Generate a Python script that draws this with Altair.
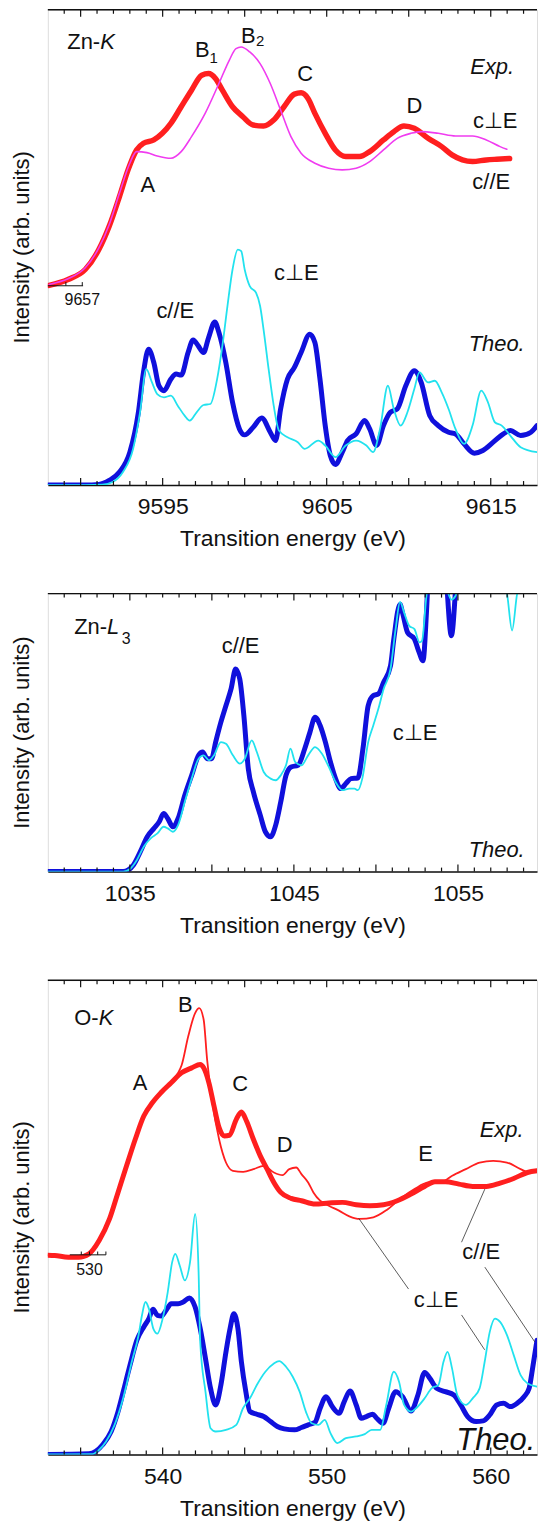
import altair as alt
import pandas as pd

FONT = "Liberation Sans"
INK = "#111111"
RED = "#ff1f1f"
MAGENTA = "#f03cf0"
BLUE = "#1010dc"
CYAN = "#22e2ee"

W = 491
H1, H2, H3 = 477, 279, 476

# Axis ranges (eV for energies, arbitrary units for intensities)
ZNK_THEO_RANGE = [9588.0, 9617.82]
ZNK_EXP_RANGE = [9654.9, 9684.72]
ZNL_THEO_RANGE = [1030.0, 1059.82]
OK_THEO_RANGE = [533.0, 562.82]
OK_EXP_RANGE = [527.46, 557.28]
ZNK_I_RANGE = [0, 143.1]
ZNL_I_RANGE = [0, 83.7]
OK_I_RANGE = [0, 142.8]

# ---------------- Zn-K edge ----------------
znk_exp_par = [
    (9654.98, 60.1), (9656.13, 61.9), (9657.18, 64.9), (9658.01, 70.9), (9658.64, 77.9),
    (9659.27, 86.9), (9659.79, 94.9), (9660.31, 100.9), (9660.73, 102.9), (9661.36, 103.9),
    (9661.88, 105.9), (9662.40, 108.9), (9663.03, 113.9), (9663.66, 118.9), (9664.28, 123.4),
    (9664.70, 123.9), (9665.12, 122.4), (9665.54, 118.9), (9666.16, 113.9), (9666.79, 110.9),
    (9667.42, 108.4), (9668.05, 108.1), (9668.67, 109.9), (9669.30, 113.9), (9669.93, 117.7),
    (9670.34, 118.1), (9670.76, 116.4), (9671.18, 111.9), (9671.81, 105.9), (9672.43, 100.9),
    (9673.06, 98.9), (9673.90, 98.9), (9674.52, 100.4), (9675.36, 103.9), (9675.99, 106.4),
    (9676.61, 108.1), (9677.24, 107.4), (9678.08, 104.4), (9678.91, 101.9), (9679.54, 99.4),
    (9680.17, 97.9), (9680.79, 97.4), (9681.63, 97.9), (9682.26, 98.1), (9683.05, 98.3),
]
znk_exp_perp = [
    (9654.98, 60.4), (9656.13, 62.1), (9657.18, 65.4), (9658.01, 71.4), (9658.64, 78.4),
    (9659.27, 87.9), (9659.90, 96.9), (9660.31, 100.4), (9660.94, 100.1), (9661.57, 99.1),
    (9662.40, 98.4), (9663.03, 100.4), (9663.66, 104.9), (9664.49, 111.9), (9665.33, 120.9),
    (9665.96, 127.9), (9666.37, 131.4), (9666.69, 131.9), (9667.21, 130.4), (9667.84, 126.9),
    (9668.46, 120.9), (9669.09, 112.9), (9669.72, 104.9), (9670.34, 99.9), (9671.18, 96.9),
    (9672.02, 95.4), (9672.85, 94.9), (9673.69, 95.4), (9674.52, 97.4), (9675.36, 100.9),
    (9676.20, 104.4), (9677.03, 105.9), (9677.66, 106.4), (9678.70, 105.9), (9679.75, 105.1),
    (9680.79, 105.1), (9681.63, 103.9), (9682.47, 101.9), (9682.88, 101.1),
]
znk_theo_par = [
    (9588.00, 0.0), (9590.28, 0.0), (9591.11, 0.2), (9591.74, 1.4), (9592.37, 3.9),
    (9593.00, 9.9), (9593.52, 21.9), (9593.83, 33.9), (9594.14, 40.9), (9594.46, 36.9),
    (9594.77, 29.9), (9595.08, 28.4), (9595.50, 31.9), (9595.82, 33.4), (9596.13, 33.1),
    (9596.55, 39.9), (9596.86, 43.7), (9597.17, 41.9), (9597.49, 39.9), (9597.80, 44.4),
    (9598.18, 49.1), (9598.43, 45.9), (9598.85, 36.9), (9599.26, 24.9), (9599.68, 16.9),
    (9600.00, 15.1), (9600.52, 17.4), (9601.04, 20.2), (9601.56, 15.9), (9601.88, 13.4),
    (9602.19, 22.9), (9602.61, 31.9), (9603.03, 35.4), (9603.44, 39.9), (9603.97, 45.4),
    (9604.28, 42.9), (9604.59, 31.9), (9604.91, 17.9), (9605.22, 8.9), (9605.53, 6.2),
    (9605.95, 9.9), (9606.27, 13.4), (9606.79, 15.4), (9607.31, 19.4), (9607.62, 16.9),
    (9608.04, 11.9), (9608.46, 17.9), (9608.88, 21.9), (9609.30, 22.9), (9609.82, 29.9),
    (9610.34, 34.4), (9610.76, 30.9), (9611.28, 20.9), (9611.80, 17.9), (9612.43, 15.9),
    (9612.85, 15.4), (9613.37, 12.4), (9614.00, 9.6), (9614.52, 10.4), (9615.15, 12.9),
    (9615.77, 15.4), (9616.19, 16.4), (9616.82, 14.9), (9617.45, 15.9), (9617.82, 17.9),
]
znk_theo_perp = [
    (9588.00, 0.0), (9590.28, 0.0), (9591.32, 0.1), (9591.95, 0.9), (9592.58, 3.9),
    (9593.20, 10.9), (9593.62, 21.9), (9594.00, 34.9), (9594.35, 30.9), (9594.67, 27.4),
    (9595.08, 26.4), (9595.50, 26.9), (9595.92, 23.9), (9596.34, 20.9), (9596.65, 19.4),
    (9597.07, 21.9), (9597.49, 24.1), (9597.91, 24.4), (9598.32, 31.9), (9598.64, 41.9),
    (9598.95, 53.9), (9599.26, 64.9), (9599.58, 70.9), (9599.79, 70.4), (9600.00, 64.9),
    (9600.31, 59.9), (9600.69, 57.9), (9600.94, 53.9), (9601.15, 46.9), (9601.46, 34.9),
    (9601.77, 23.9), (9602.09, 16.4), (9602.61, 14.4), (9603.24, 12.9), (9603.66, 10.9),
    (9604.49, 13.4), (9604.91, 11.9), (9605.53, 8.4), (9606.16, 11.9), (9606.79, 13.4),
    (9607.42, 11.9), (9607.83, 9.9), (9608.25, 16.9), (9608.73, 29.9), (9609.09, 22.9),
    (9609.51, 17.9), (9609.92, 21.9), (9610.34, 28.9), (9610.65, 33.9), (9611.18, 30.9),
    (9611.59, 31.4), (9612.01, 27.9), (9612.43, 22.9), (9612.85, 16.9), (9613.37, 12.4),
    (9613.89, 17.9), (9614.42, 28.4), (9614.83, 24.9), (9615.25, 18.9), (9615.67, 17.9),
    (9616.19, 14.9), (9616.82, 11.4), (9617.82, 9.9),
]

# ---------------- Zn-L3 edge ----------------
znl_theo_par = [
    (1030.00, 0.0), (1034.59, 0.0), (1034.91, 0.5), (1035.22, 2.0), (1035.64, 6.0),
    (1036.06, 10.5), (1036.47, 13.0), (1036.79, 15.0), (1037.06, 17.5), (1037.31, 16.0),
    (1037.62, 13.5), (1037.94, 16.0), (1038.35, 23.0), (1038.77, 29.0), (1039.19, 35.0),
    (1039.44, 36.0), (1039.71, 34.0), (1039.98, 34.0), (1040.23, 39.0), (1040.55, 45.0),
    (1040.86, 50.0), (1041.17, 55.0), (1041.45, 61.0), (1041.70, 58.0), (1041.95, 47.0),
    (1042.22, 31.0), (1042.53, 24.0), (1042.95, 17.0), (1043.26, 12.0), (1043.58, 10.5),
    (1043.89, 14.0), (1044.20, 21.0), (1044.52, 29.0), (1044.83, 31.5), (1045.25, 32.0),
    (1045.66, 37.0), (1045.98, 42.0), (1046.29, 46.5), (1046.60, 44.0), (1046.92, 39.0),
    (1047.23, 33.0), (1047.54, 28.0), (1047.86, 25.0), (1048.17, 26.5), (1048.48, 28.0),
    (1048.90, 28.2), (1049.21, 37.0), (1049.53, 50.0), (1049.84, 53.0), (1050.15, 53.5),
    (1050.47, 57.0), (1050.89, 62.0), (1051.09, 70.0), (1051.47, 80.5), (1051.62, 78.0),
    (1051.93, 72.0), (1052.35, 70.0), (1052.60, 66.5), (1052.87, 63.5), (1053.08, 78.0),
    (1053.18, 88.0), (1053.43, 100.0), (1053.80, 104.0), (1054.23, 92.0), (1054.60, 71.0),
    (1054.96, 92.0), (1055.27, 104.0), (1056.50, 112.0), (1058.00, 116.0), (1059.82, 120.0),
]
znl_theo_perp = [
    (1030.00, 0.0), (1034.59, 0.0), (1035.01, 0.8), (1035.43, 3.5), (1035.85, 7.5),
    (1036.27, 10.0), (1036.68, 11.5), (1037.06, 13.5), (1037.31, 13.0), (1037.62, 12.0),
    (1037.94, 14.0), (1038.35, 21.0), (1038.77, 28.0), (1039.19, 34.0), (1039.50, 35.0),
    (1039.82, 33.5), (1040.13, 35.0), (1040.55, 39.0), (1040.86, 38.5), (1041.28, 35.0),
    (1041.70, 32.5), (1042.01, 34.0), (1042.43, 39.5), (1042.74, 36.0), (1043.16, 30.0),
    (1043.58, 28.0), (1043.89, 27.5), (1044.20, 29.0), (1044.52, 32.0), (1044.79, 37.0),
    (1045.08, 33.0), (1045.46, 32.0), (1045.87, 35.0), (1046.29, 37.5), (1046.71, 35.5),
    (1047.13, 31.5), (1047.54, 27.0), (1047.96, 24.5), (1048.38, 25.0), (1048.69, 25.0),
    (1048.90, 24.5), (1049.17, 28.0), (1049.53, 39.0), (1049.84, 44.0), (1050.15, 49.0),
    (1050.47, 55.0), (1050.89, 61.0), (1051.20, 73.0), (1051.47, 81.2), (1051.72, 78.0),
    (1052.03, 74.0), (1052.35, 73.0), (1052.66, 69.0), (1052.81, 69.5), (1053.08, 83.0),
    (1053.43, 92.0), (1054.02, 90.0), (1054.33, 85.0), (1054.60, 81.9), (1054.85, 83.0),
    (1055.17, 90.0), (1056.50, 100.0), (1057.78, 87.0), (1057.99, 83.7), (1058.30, 72.6),
    (1058.61, 83.7), (1058.82, 87.0), (1059.82, 100.0),
]

# ---------------- O-K edge ----------------
ok_exp_par = [
    (527.46, 60.0), (527.88, 59.9), (528.71, 59.4), (529.34, 59.4), (529.97, 60.4),
    (530.59, 64.4), (531.22, 70.9), (531.74, 78.9), (532.26, 86.9), (532.79, 94.9),
    (533.31, 101.9), (533.83, 105.9), (534.35, 108.9), (534.98, 111.9), (535.61, 114.9),
    (536.23, 116.4), (536.75, 117.4), (536.96, 116.4), (537.28, 111.9), (537.59, 104.9),
    (537.90, 98.4), (538.22, 95.9), (538.53, 96.1), (538.95, 100.9), (539.26, 103.1),
    (539.57, 100.4), (539.99, 94.9), (540.41, 89.9), (540.83, 85.9), (541.24, 81.9),
    (541.66, 78.9), (542.29, 77.1), (542.92, 76.4), (543.75, 75.4), (544.59, 75.7),
    (545.42, 75.9), (546.26, 75.2), (547.09, 74.9), (547.93, 75.2), (548.76, 76.4),
    (549.60, 78.4), (550.43, 80.7), (551.06, 82.1), (551.69, 82.1), (552.52, 81.4),
    (553.36, 80.7), (554.19, 80.7), (555.03, 81.7), (555.86, 83.1), (556.70, 84.9),
    (557.28, 85.4),
]
ok_exp_perp = [
    (527.46, 60.0), (527.88, 59.9), (528.71, 59.4), (529.34, 59.4), (529.97, 60.4),
    (530.59, 64.4), (531.22, 70.9), (531.74, 78.9), (532.26, 86.9), (532.79, 94.9),
    (533.31, 101.9), (533.83, 105.9), (534.35, 108.9), (534.98, 111.9), (535.40, 114.9),
    (535.61, 117.1), (536.02, 125.9), (536.44, 132.9), (536.69, 134.4), (536.96, 130.9),
    (537.17, 118.9), (537.49, 105.9), (537.90, 94.9), (538.32, 87.9), (538.74, 85.4),
    (539.37, 85.1), (539.99, 85.9), (540.62, 86.9), (541.24, 84.9), (541.77, 84.1),
    (542.18, 85.9), (542.60, 86.4), (542.92, 84.4), (543.33, 81.9), (543.65, 78.9),
    (544.06, 76.4), (544.59, 74.9), (545.21, 73.4), (545.84, 71.7), (546.47, 70.9),
    (547.30, 71.4), (548.14, 73.7), (548.97, 77.1), (549.81, 79.9), (550.64, 81.9),
    (551.48, 82.1), (552.11, 83.9), (552.94, 85.9), (553.78, 87.9), (554.61, 88.4),
    (555.45, 87.9), (556.28, 85.9), (556.80, 84.9), (557.28, 85.4),
]
ok_theo_par = [
    (533.00, 0.0), (535.51, 0.2), (535.92, 0.9), (536.34, 2.9), (536.86, 6.9),
    (537.28, 12.9), (537.70, 20.9), (538.01, 26.9), (538.43, 34.4), (538.85, 38.4),
    (539.16, 40.9), (539.41, 43.7), (539.68, 41.9), (539.93, 41.7), (540.21, 43.4),
    (540.52, 45.4), (540.94, 45.4), (541.25, 45.9), (541.63, 47.1), (541.98, 44.4),
    (542.29, 37.9), (542.61, 28.9), (542.92, 19.9), (543.23, 14.9), (543.55, 20.9),
    (543.86, 30.9), (544.11, 37.9), (544.34, 42.4), (544.59, 37.9), (544.80, 27.9),
    (545.07, 18.9), (545.32, 12.9), (545.74, 12.1), (546.16, 11.4), (546.58, 9.9),
    (546.99, 8.4), (547.41, 7.7), (548.04, 7.4), (548.46, 8.1), (548.87, 8.9),
    (549.29, 9.7), (549.60, 13.9), (549.96, 17.4), (550.34, 14.4), (550.75, 12.4),
    (551.07, 15.9), (551.42, 19.1), (551.80, 14.9), (552.11, 10.9), (552.42, 11.4),
    (552.80, 12.1), (553.05, 10.9), (553.43, 9.4), (553.78, 13.9), (554.20, 18.9),
    (554.62, 17.4), (555.14, 13.1), (555.56, 17.9), (555.97, 24.7), (556.29, 22.9),
    (556.71, 19.9), (557.23, 18.9), (557.75, 17.9), (558.17, 14.9), (558.59, 11.4),
    (559.11, 9.9), (559.53, 10.1), (559.94, 11.9), (560.36, 14.9), (560.78, 15.4),
    (561.20, 14.4), (561.61, 15.4), (562.03, 17.4), (562.34, 19.9), (562.55, 25.9),
    (562.82, 34.4),
]
ok_theo_perp = [
    (533.00, 0.0), (535.72, 0.1), (536.13, 1.4), (536.55, 3.9), (537.07, 8.9),
    (537.59, 16.9), (538.12, 27.9), (538.53, 35.9), (538.74, 41.9), (538.95, 45.9),
    (539.16, 43.9), (539.43, 37.9), (539.68, 36.4), (540.00, 40.9), (540.31, 48.9),
    (540.58, 57.9), (540.77, 60.4), (541.04, 56.9), (541.35, 52.4), (541.67, 57.9),
    (541.98, 72.4), (542.19, 55.0), (542.29, 33.9), (542.61, 18.9), (542.92, 7.9),
    (543.23, 6.9), (543.86, 7.4), (544.49, 8.9), (544.90, 13.9), (545.32, 16.9),
    (545.74, 20.9), (546.26, 24.9), (546.78, 27.4), (547.10, 28.1), (547.52, 26.4),
    (547.93, 23.4), (548.35, 18.9), (548.73, 12.9), (549.08, 9.4), (549.50, 8.9),
    (549.88, 10.4), (550.23, 6.4), (550.65, 3.4), (551.17, 4.9), (551.80, 5.4),
    (552.32, 6.1), (552.74, 7.4), (553.26, 7.4), (553.63, 14.9), (554.09, 24.9),
    (554.41, 21.9), (554.72, 14.9), (555.14, 12.9), (555.45, 13.9), (555.97, 16.9),
    (556.39, 19.9), (556.81, 20.9), (557.12, 27.9), (557.37, 30.9), (557.64, 25.9),
    (557.96, 17.9), (558.48, 14.9), (558.90, 16.9), (559.32, 19.9), (559.63, 27.9),
    (559.94, 36.9), (560.26, 40.9), (560.57, 39.9), (560.99, 35.9), (561.40, 29.9),
    (561.82, 23.9), (562.24, 21.4), (562.82, 20.4),
]

# Labelled tick values on the energy axes
znk_tick_labels = [9595, 9605, 9615]
znl_tick_labels = [1035, 1045, 1055]
ok_tick_labels = [540, 550, 560]

PERP = "c\u22a5E"
PAR = "c//E"
Y_TITLE = "Intensity (arb. units)"


def xenc(rng, field="energy"):
    return alt.X(f"{field}:Q", scale=alt.Scale(domain=rng, nice=False, zero=False), axis=None)


def yenc(rng, field="intensity"):
    return alt.Y(f"{field}:Q", scale=alt.Scale(domain=rng, nice=False, zero=False), axis=None)


def curve(points, xr, yr, color, width, axes=None):
    df = pd.DataFrame(points, columns=["energy", "intensity"])
    x = xenc(xr)
    y = yenc(yr)
    if axes is not None:
        x = alt.X("energy:Q", scale=alt.Scale(domain=xr, nice=False, zero=False),
                  axis=alt.Axis(values=axes, format="d", ticks=False, grid=False,
                                domainColor=INK, domainWidth=1.5, labelFont=FONT,
                                labelFontSize=23, labelColor=INK, labelPadding=11,
                                labelFlush=False, labelAngle=0,
                                title="Transition energy (eV)", titleFont=FONT,
                                titleFontSize=23, titleFontWeight="normal",
                                titleColor=INK, titlePadding=9))
        y = alt.Y("intensity:Q", scale=alt.Scale(domain=yr, nice=False, zero=False),
                  axis=alt.Axis(ticks=False, labels=False, grid=False, domainColor=INK,
                                domainWidth=1.5, title=None))
    return alt.Chart(df).mark_line(
        color=color, strokeWidth=width, interpolate="monotone", clip=True,
        strokeJoin="round", strokeCap="round",
    ).encode(x=x, y=y)


def y_title(height):
    return alt.Chart(pd.DataFrame({"t": [Y_TITLE]})).mark_text(
        font=FONT, fontSize=22, angle=270, align="center", baseline="middle", color=INK,
    ).encode(x=alt.value(-25.5), y=alt.value(height / 2), text="t:N")


def ticks(values, xr, y0, y1):
    df = pd.DataFrame({"energy": values})
    return alt.Chart(df).mark_rule(color=INK, strokeWidth=1.2).encode(
        x=xenc(xr), y=alt.value(y0), y2=alt.value(y1))


def frame_ticks(xr, height):
    lo = int(xr[0]) + 1
    hi = int(xr[1])
    minor = [v for v in range(lo, hi + 1) if v % 5 != 0]
    major = [v for v in range(lo, hi + 1) if v % 5 == 0]
    top_line = alt.Chart(pd.DataFrame({"e0": [xr[0]], "e1": [xr[1]]})).mark_rule(
        color=INK, strokeWidth=1.5).encode(
        x=alt.X("e0:Q", scale=alt.Scale(domain=xr, nice=False, zero=False), axis=None),
        x2="e1:Q", y=alt.value(0))
    return [
        top_line,
        ticks(minor, xr, 0, 4),
        ticks(major, xr, 0, 7),
        ticks(minor, xr, height, height - 4),
        ticks(major, xr, height, height - 7),
    ]


def labels(rows, xr, yr, size=22, style="normal", align="center", baseline="middle"):
    df = pd.DataFrame(rows, columns=["energy", "intensity", "text"])
    return alt.Chart(df).mark_text(
        font=FONT, fontSize=size, fontStyle=style, align=align, baseline=baseline,
        color=INK, clip=True,
    ).encode(x=xenc(xr), y=yenc(yr), text="text:N")


def leaders(rows, xr, yr):
    df = pd.DataFrame(rows, columns=["e0", "i0", "e1", "i1"])
    return alt.Chart(df).mark_rule(color="#333333", strokeWidth=0.8).encode(
        x=alt.X("e0:Q", scale=alt.Scale(domain=xr, nice=False, zero=False), axis=None),
        x2="e1:Q",
        y=alt.Y("i0:Q", scale=alt.Scale(domain=yr, nice=False, zero=False), axis=None),
        y2="i1:Q")


def mini_axis(xr, yr, start, end, level, tick_at, tick_top, label, label_level):
    base = alt.Chart(pd.DataFrame({"e0": [start], "e1": [end], "lv": [level]})).mark_rule(
        color=INK, strokeWidth=1.0).encode(
        x=alt.X("e0:Q", scale=alt.Scale(domain=xr, nice=False, zero=False), axis=None),
        x2="e1:Q",
        y=alt.Y("lv:Q", scale=alt.Scale(domain=yr, nice=False, zero=False), axis=None))
    tk = alt.Chart(pd.DataFrame({"energy": tick_at, "i0": level, "i1": tick_top})).mark_rule(
        color=INK, strokeWidth=1.0).encode(
        x=xenc(xr),
        y=alt.Y("i0:Q", scale=alt.Scale(domain=yr, nice=False, zero=False), axis=None),
        y2="i1:Q")
    txt = labels([(label, label_level, str(label))], xr, yr, size=16)
    return [base, tk, txt]


# ---------------- panel 1: Zn-K ----------------
xr, xe, yr = ZNK_THEO_RANGE, ZNK_EXP_RANGE, ZNK_I_RANGE
p1_layers = [
    curve(znk_theo_par, xr, yr, BLUE, 5, axes=znk_tick_labels),
    curve(znk_theo_perp, xr, yr, CYAN, 1.8),
    curve(znk_exp_par, xe, yr, RED, 5.5),
    curve(znk_exp_perp, xe, yr, MAGENTA, 1.6),
    *frame_ticks(xr, H1),
    *mini_axis(xe, yr, 9654.9, 9657.05, 60.0, [9656, 9657], 61.1, 9657, 55.6),
    y_title(H1),
    labels([(9591.19, 133.5, "Zn-")], xr, yr, align="right"),
    labels([(9591.19, 133.5, "K")], xr, yr, align="left", style="italic"),
    labels([(9594.10, 90.4, "A"), (9597.41, 130.9, "B"), (9600.22, 135.2, "B"),
            (9603.69, 123.7, "C"), (9610.35, 114.1, "D"),
            (9615.27, 109.6, PERP), (9615.03, 91.3, PAR),
            (9603.15, 63.7, PERP), (9595.77, 52.3, PAR)], xr, yr),
    labels([(9598.11, 128.7, "1"), (9600.94, 133.7, "2")], xr, yr, size=15),
    labels([(9615.09, 125.8, "Exp."), (9615.36, 42.4, "Theo.")], xr, yr, style="italic"),
]
panel1 = alt.layer(*p1_layers).resolve_scale(x="independent").properties(width=W, height=H1)

# ---------------- panel 2: Zn-L3 ----------------
xr, yr = ZNL_THEO_RANGE, ZNL_I_RANGE
p2_layers = [
    curve(znl_theo_par, xr, yr, BLUE, 5, axes=znl_tick_labels),
    curve(znl_theo_perp, xr, yr, CYAN, 1.8),
    *frame_ticks(xr, H2),
    y_title(H2),
    labels([(1033.61, 73.5, "Zn-")], xr, yr, align="right"),
    labels([(1033.61, 73.5, "L")], xr, yr, align="left", style="italic"),
    labels([(1034.50, 69.9, "3")], xr, yr, size=16, align="left"),
    labels([(1041.75, 67.8, PAR), (1052.38, 41.85, PERP)], xr, yr),
    labels([(1057.36, 6.6, "Theo.")], xr, yr, style="italic"),
]
panel2 = alt.layer(*p2_layers).resolve_scale(x="independent").properties(width=W, height=H2)

# ---------------- panel 3: O-K ----------------
xr, xe, yr = OK_THEO_RANGE, OK_EXP_RANGE, OK_I_RANGE
p3_layers = [
    curve(ok_theo_par, xr, yr, BLUE, 5, axes=ok_tick_labels),
    curve(ok_theo_perp, xr, yr, CYAN, 1.8),
    curve(ok_exp_par, xe, yr, RED, 5),
    curve(ok_exp_perp, xe, yr, RED, 1.8),
    *frame_ticks(xr, H3),
    *mini_axis(xe, yr, 528.8, 531.0, 60.1, [529.5, 530, 530.5, 531], 61.1, 530, 55.5),
    y_title(H3),
    leaders([(546.41, 71.1, 549.45, 49.8), (554.10, 79.9, 552.68, 63.9)], xe, yr),
    leaders([(559.64, 56.4, 562.68, 33.9), (558.22, 42.0, 559.63, 31.5)], xr, yr),
    labels([(536.10, 131.55, "O-")], xr, yr, align="right"),
    labels([(536.10, 131.55, "K")], xr, yr, align="left", style="italic"),
    labels([(538.62, 111.9, "A"), (541.38, 135.3, "B"), (544.72, 111.6, "C"),
            (547.44, 93.15, "D"), (556.02, 90.45, "E"),
            (559.42, 60.9, PAR), (556.66, 46.35, PERP)], xr, yr),
    labels([(560.66, 97.65, "Exp.")], xr, yr, style="italic"),
    labels([(557.90, 1.2, "Theo.")], xr, yr, size=31, style="italic", align="left",
           baseline="alphabetic"),
]
panel3 = alt.layer(*p3_layers).resolve_scale(x="independent").properties(width=W, height=H3)

chart = alt.vconcat(panel1, panel2, panel3, spacing=40).properties(
    padding={"left": 11, "top": 5, "right": 0, "bottom": 0}
).configure_view(stroke="transparent").configure(font=FONT)

chart.save("out.html", embed_options={"renderer": "svg", "actions": False})
